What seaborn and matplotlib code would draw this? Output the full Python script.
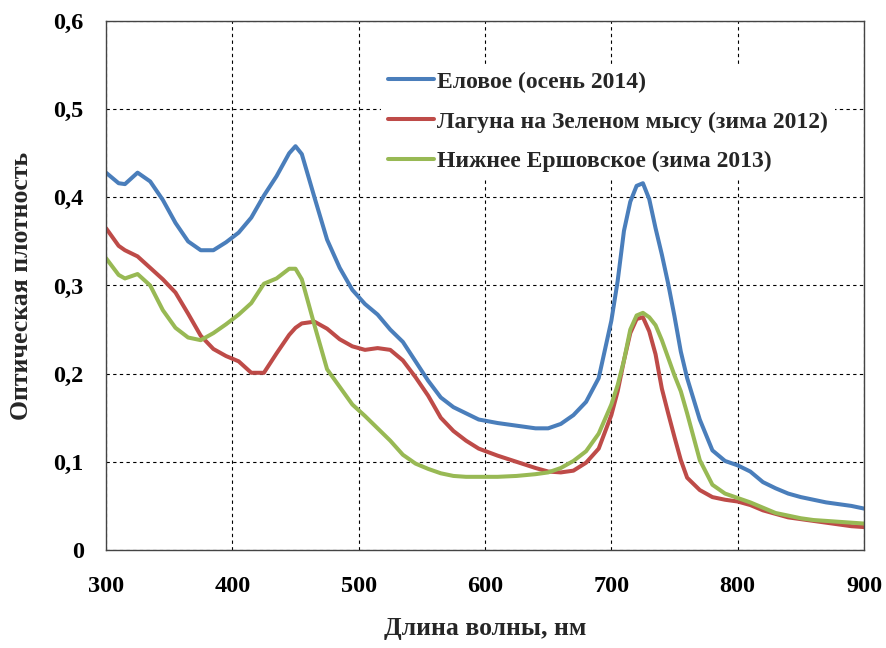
import numpy as np
import pandas as pd
import matplotlib
matplotlib.use("Agg")
import matplotlib.pyplot as plt
import seaborn as sns
from matplotlib.ticker import FuncFormatter, MultipleLocator

# Wavelength grid, nm
wavelength = [300, 310, 315, 325, 335, 345, 355, 365, 375, 385, 395, 405, 415, 425,
              435, 445, 450, 455, 465, 475, 485, 495, 505, 515, 525, 535, 545, 555,
              565, 575, 585, 595, 610, 625, 640, 650, 660, 670, 680, 690, 700, 705,
              710, 715, 720, 725, 730, 735, 740, 745, 750, 755, 760, 770, 780, 790,
              800, 810, 820, 830, 840, 850, 860, 870, 880, 890, 900]

# Optical density spectra
elovoe = [0.428, 0.416, 0.415, 0.428, 0.418, 0.397, 0.371, 0.350, 0.340, 0.340,
          0.349, 0.360, 0.377, 0.402, 0.424, 0.450, 0.458, 0.449, 0.400, 0.352,
          0.320, 0.295, 0.279, 0.267, 0.250, 0.236, 0.214, 0.192, 0.173, 0.162,
          0.155, 0.148, 0.144, 0.141, 0.138, 0.138, 0.143, 0.153, 0.168, 0.195,
          0.260, 0.305, 0.362, 0.395, 0.413, 0.416, 0.398, 0.365, 0.335, 0.302,
          0.265, 0.225, 0.195, 0.148, 0.113, 0.101, 0.096, 0.089, 0.077, 0.070,
          0.064, 0.060, 0.057, 0.054, 0.052, 0.050, 0.047]

laguna = [0.365, 0.345, 0.340, 0.333, 0.320, 0.307, 0.292, 0.268, 0.243, 0.228,
          0.220, 0.214, 0.201, 0.201, 0.223, 0.244, 0.252, 0.257, 0.259, 0.251,
          0.239, 0.231, 0.227, 0.229, 0.227, 0.215, 0.196, 0.175, 0.150, 0.135,
          0.124, 0.115, 0.107, 0.100, 0.093, 0.089, 0.088, 0.090, 0.099, 0.115,
          0.153, 0.180, 0.215, 0.246, 0.262, 0.264, 0.248, 0.222, 0.183, 0.155,
          0.128, 0.102, 0.082, 0.068, 0.060, 0.057, 0.055, 0.051, 0.045, 0.041,
          0.037, 0.035, 0.033, 0.031, 0.029, 0.027, 0.026]

ershovskoe = [0.331, 0.312, 0.308, 0.313, 0.300, 0.272, 0.252, 0.241, 0.238, 0.246,
              0.256, 0.267, 0.280, 0.302, 0.308, 0.319, 0.319, 0.307, 0.255, 0.205,
              0.185, 0.165, 0.152, 0.138, 0.124, 0.108, 0.098, 0.092, 0.087, 0.084,
              0.083, 0.083, 0.083, 0.084, 0.086, 0.088, 0.093, 0.101, 0.112, 0.132,
              0.165, 0.187, 0.215, 0.250, 0.266, 0.269, 0.264, 0.255, 0.238, 0.218,
              0.198, 0.180, 0.155, 0.102, 0.074, 0.064, 0.059, 0.054, 0.048, 0.042,
              0.039, 0.036, 0.034, 0.033, 0.032, 0.031, 0.030]

labels = ["Еловое (осень 2014)",
          "Лагуна на Зеленом мысу (зима 2012)",
          "Нижнее Ершовское (зима 2013)"]
colors = ["#4A7EBB", "#BE4B48", "#98B954"]

df = pd.concat([
    pd.DataFrame({"wl": wavelength, "od": vals, "series": lab})
    for vals, lab in zip([elovoe, laguna, ershovskoe], labels)
], ignore_index=True)

sns.set_theme(style="white")
plt.rcParams["font.family"] = ["Liberation Serif", "DejaVu Serif"]
plt.rcParams["font.weight"] = "bold"

fig = plt.figure(figsize=(8.87, 6.48), dpi=100)
ax = fig.add_axes([106 / 887, 1 - 550 / 648, 758 / 887, 529 / 648])

sns.lineplot(data=df, x="wl", y="od", hue="series", hue_order=labels,
             palette=colors, linewidth=2.9, ax=ax, sort=False, legend=True)

ax.set_xlim(300, 900)
ax.set_ylim(0, 0.6)
ax.xaxis.set_major_locator(MultipleLocator(100))
ax.yaxis.set_major_locator(MultipleLocator(0.1))
ax.yaxis.set_major_formatter(FuncFormatter(
    lambda v, _: "0" if abs(v) < 1e-9 else f"{v:.1f}".replace(".", ",")))

ax.grid(True, color="black", linestyle=(0, (3, 3)), linewidth=0.8)
for s in ax.spines.values():
    s.set_color("#444444")
    s.set_linewidth(1.0)

ax.tick_params(axis="both", direction="in", length=0, labelsize=17.5,
               colors="black")
ax.tick_params(axis="y", pad=16)
ax.tick_params(axis="x", pad=19)
for t in ax.get_xticklabels() + ax.get_yticklabels():
    t.set_fontweight("bold")

ax.set_xlabel("Длина волны, нм", fontsize=18.5, fontweight="bold", labelpad=14)
ax.set_ylabel("Оптическая плотность", fontsize=18.5, fontweight="bold", labelpad=15)

leg = ax.legend(loc="upper left", bbox_to_anchor=(381 / 887, 1 - 64 / 648),
                bbox_transform=fig.transFigure, frameon=True, fontsize=17,
                handlelength=1.95, handletextpad=0.12, labelspacing=0.78,
                borderpad=0.3, borderaxespad=0, fancybox=False)
leg.get_frame().set_facecolor("white")
leg.get_frame().set_edgecolor("none")
leg.get_frame().set_alpha(1.0)
for t in leg.get_texts():
    t.set_fontweight("bold")
for h in leg.get_lines():
    h.set_linewidth(2.9)

fig.savefig("out.png", dpi=100)
